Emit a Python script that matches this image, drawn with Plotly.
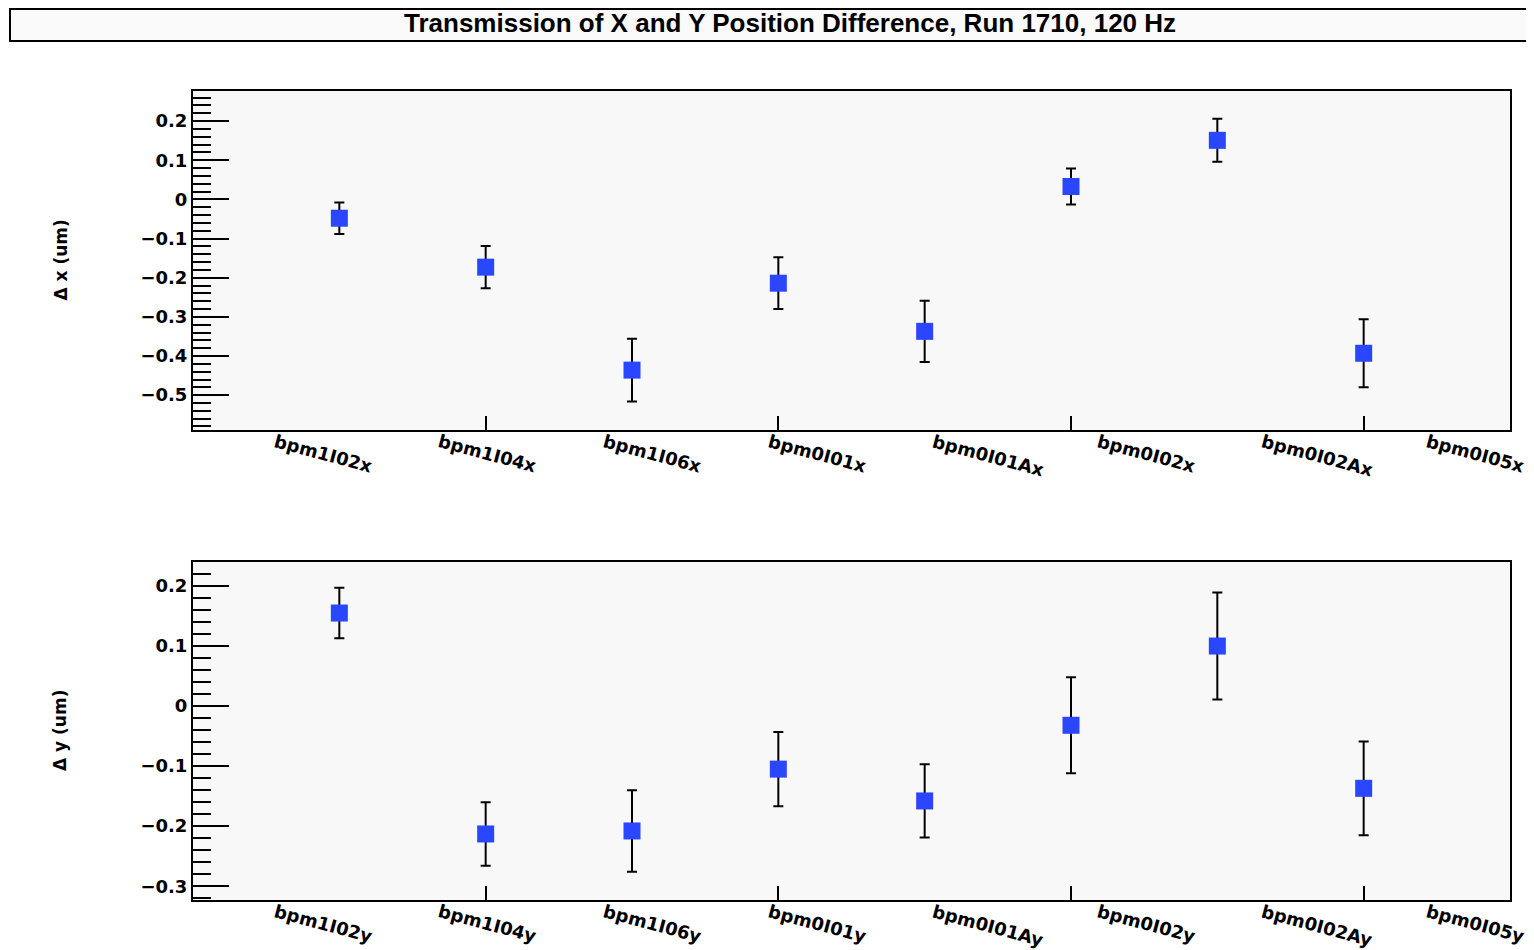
import plotly.graph_objects as go

# ---- data ----
x_labels = ["bpm1I02x", "bpm1I04x", "bpm1I06x", "bpm0I01x",
            "bpm0I01Ax", "bpm0I02x", "bpm0I02Ax", "bpm0I05x"]
y_labels = ["bpm1I02y", "bpm1I04y", "bpm1I06y", "bpm0I01y",
            "bpm0I01Ay", "bpm0I02y", "bpm0I02Ay", "bpm0I05y"]
positions = [1, 2, 3, 4, 5, 6, 7, 8]
dx_vals = [-0.048, -0.173, -0.436, -0.214, -0.337, 0.033, 0.151, -0.393]
dx_errs = [0.040, 0.054, 0.080, 0.066, 0.078, 0.046, 0.055, 0.087]
dy_vals = [0.155, -0.213, -0.208, -0.105, -0.158, -0.032, 0.100, -0.137]
dy_errs = [0.042, 0.053, 0.068, 0.062, 0.061, 0.080, 0.089, 0.078]

title_text = "Transmission of X and Y Position Difference, Run 1710, 120 Hz"
x_range = [0, 9]
top_y_range = [-0.589, 0.277]
bot_y_range = [-0.323, 0.240]

# page body has an 8px margin; size the figure to fill the window
OFF = 8
W, H = 1534 - OFF, 950 - OFF
FONT = "Liberation Sans"
TFONT = "DejaVu Sans"
MARK = "#2a46ff"


def fx(px):
    return (px - OFF) / W


def fy(py):
    return 1 - (py - OFF) / H


fig = go.Figure()

for vals, errs, xa, ya in [(dx_vals, dx_errs, "x", "y"), (dy_vals, dy_errs, "x2", "y2")]:
    fig.add_trace(go.Scatter(
        x=positions, y=vals, mode="markers", xaxis=xa, yaxis=ya,
        marker=dict(symbol="square", size=17, color=MARK, line=dict(width=0)),
        error_y=dict(type="data", array=errs, visible=True, color="black",
                     thickness=2, width=5),
        showlegend=False,
    ))

xdom = [fx(193), fx(1510)]
top_dom = [fy(430), fy(91)]
bot_dom = [fy(900), fy(562)]

tickfont = dict(family=TFONT, size=18, color="black", weight="bold")


def xaxis(anchor):
    return dict(domain=xdom, range=x_range, anchor=anchor,
                showgrid=False, zeroline=False,
                showline=True, linecolor="black", linewidth=2, mirror=True,
                tickmode="array", tickvals=[2, 4, 6, 8], ticks="inside",
                ticklen=14, tickwidth=2, tickcolor="black",
                showticklabels=False)


def yaxis(dom, rng, anchor):
    return dict(domain=dom, range=rng, anchor=anchor,
                showgrid=False, zeroline=False,
                showline=True, linecolor="black", linewidth=2, mirror=True,
                tick0=0, dtick=0.1, ticks="inside", ticklen=36, tickwidth=2,
                tickcolor="black", tickfont=tickfont,
                minor=dict(dtick=0.02, ticks="inside", ticklen=18, tickwidth=2,
                           tickcolor="black", showgrid=False))


fig.update_layout(
    width=W, height=H, autosize=False,
    margin=dict(l=0, r=0, t=0, b=0),
    paper_bgcolor="white", plot_bgcolor="#f8f8f8",
    xaxis=xaxis("y"), yaxis=yaxis(top_dom, top_y_range, "x"),
    xaxis2=xaxis("y2"), yaxis2=yaxis(bot_dom, bot_y_range, "x2"),
)

annotations = []
bin_w = (x_range[1] - x_range[0]) / len(x_labels)
for labels, xr, yr in [(x_labels, "x", "y domain"), (y_labels, "x2", "y2 domain")]:
    for i, lab in enumerate(labels):
        annotations.append(dict(
            x=x_range[0] + (i + 0.5) * bin_w, y=0, xref=xr, yref=yr,
            text=lab, showarrow=False, textangle=15,
            xanchor="left", yanchor="top", yshift=2, xshift=-6,
            font=dict(family=TFONT, size=18, color="black", weight="bold"),
        ))

for txt, dom in [("Δ x (um)", top_dom), ("Δ y (um)", bot_dom)]:
    annotations.append(dict(
        x=fx(60), y=(dom[0] + dom[1]) / 2, xref="paper", yref="paper",
        text=txt, showarrow=False, textangle=-90,
        xanchor="center", yanchor="middle",
        font=dict(family=TFONT, size=17, color="black", weight="bold"),
    ))

annotations.append(dict(
    x=fx(790), y=fy(23), xref="paper", yref="paper",
    text=title_text, showarrow=False, xanchor="center", yanchor="middle",
    font=dict(family=FONT, size=26, color="black", weight="bold"),
))
fig.update_layout(annotations=annotations)

fig.add_shape(type="rect", xref="paper", yref="paper",
              x0=fx(10), x1=fx(1527), y0=fy(41), y1=fy(9),
              line=dict(color="black", width=2), fillcolor="#fafafa", layer="below")

fig.write_html("out.html")
